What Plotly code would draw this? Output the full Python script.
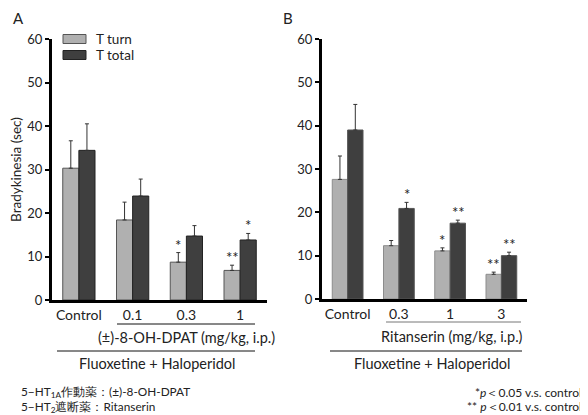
import plotly.graph_objects as go

# The page body adds an 8px offset, so the figure is 8px smaller and all
# reference-pixel positions are shifted by 8px.
OFF = 8
W, H = 588 - OFF, 415 - OFF
FONT = "Lato"

# ---------------- data ----------------
cats_A = ["Control", "0.1", "0.3", "1"]
turn_A = [30.3, 18.4, 8.7, 6.8]
turn_A_err = [6.3, 4.1, 2.2, 1.2]
total_A = [34.4, 23.9, 14.7, 13.8]
total_A_err = [6.1, 3.9, 2.4, 1.5]
sig_turn_A = ["", "", "*", "**"]
sig_total_A = ["", "", "", "*"]

cats_B = ["Control", "0.3", "1", "3"]
turn_B = [27.6, 12.3, 11.1, 5.7]
turn_B_err = [5.4, 1.2, 0.7, 0.5]
total_B = [39.0, 20.9, 17.5, 10.0]
total_B_err = [5.9, 1.4, 0.7, 0.8]
sig_turn_B = ["", "", "*", "**"]
sig_total_B = ["", "*", "**", "**"]

series_names = ["T turn", "T total"]
y_ticks = [0, 10, 20, 30, 40, 50, 60]

GRAY = "#b0b0b0"
DARK = "#3f3f3f"
EDGE_A = ["#555555", "#222222"]
TXT = "#222222"


def px_x(p):
    return (p - OFF) / W


def px_y(p):
    return 1 - (p - OFF) / H


fig = go.Figure()

def add_bars(cats, turn, turn_err, total, total_err, xa, ya, edge_g, edge_d):
    fig.add_trace(go.Bar(
        x=cats, y=turn, name=series_names[0], xaxis=xa, yaxis=ya,
        marker=dict(color=GRAY, line=dict(color=edge_g, width=1)),
        error_y=dict(type="data", array=turn_err, symmetric=False,
                     arrayminus=[0] * len(turn), color="#333333", thickness=1, width=2),
        showlegend=False))
    fig.add_trace(go.Bar(
        x=cats, y=total, name=series_names[1], xaxis=xa, yaxis=ya,
        marker=dict(color=DARK, line=dict(color=edge_d, width=1)),
        error_y=dict(type="data", array=total_err, symmetric=False,
                     arrayminus=[0] * len(total), color="#333333", thickness=1, width=2),
        showlegend=False))


add_bars(cats_A, turn_A, turn_A_err, total_A, total_A_err, "x", "y", EDGE_A[0], EDGE_A[1])
add_bars(cats_B, turn_B, turn_B_err, total_B, total_B_err, "x2", "y2", "#8c8c8c", "#555555")

annotations = []

def add_sig(vals, errs, sigs, xref, yref, shift):
    for i, (v, e, s) in enumerate(zip(vals, errs, sigs)):
        if s:
            annotations.append(dict(x=i, y=v + e, xref=xref, yref=yref, text=s,
                                    showarrow=False, xshift=shift, yanchor="bottom",
                                    yshift=-3, font=dict(family=FONT, size=15, color=TXT)))


add_sig(turn_A, turn_A_err, sig_turn_A, "x", "y", -8)
add_sig(total_A, total_A_err, sig_total_A, "x", "y", 8)
add_sig(turn_B, turn_B_err, sig_turn_B, "x2", "y2", -8)
add_sig(total_B, total_B_err, sig_total_B, "x2", "y2", 8)

def txt(x, y, text, size=12.5, xanchor="center", align="center"):
    annotations.append(dict(x=px_x(x), y=px_y(y), xref="paper", yref="paper", text=text,
                            showarrow=False, xanchor=xanchor, yanchor="middle", align=align,
                            font=dict(family=FONT, size=size, color=TXT)))

txt(18, 18, "A", 15)
txt(288, 18, "B", 15)
txt(186, 337, "(±)-8-OH-DPAT (mg/kg, i.p.)", 14.5)
txt(157, 363, "Fluoxetine + Haloperidol", 14.5)
txt(452, 336, "Ritanserin (mg/kg, i.p.)", 14.5)
txt(432, 363, "Fluoxetine + Haloperidol", 14.5)
txt(19, 392, "5−HT<sub>1A</sub>作動薬：(±)-8-OH-DPAT", 11.8, "left", "left")
txt(19, 407, "5−HT<sub>2</sub>遮断薬：Ritanserin", 11.8, "left", "left")
txt(584, 392, "*<i>p</i>＜0.05 v.s. control", 12, "right", "right")
txt(584, 406, "** <i>p</i>＜0.01 v.s. control", 12, "right", "right")

shapes = []

def hline(x0, x1, y, color="#111", w=1):
    shapes.append(dict(type="line", xref="paper", yref="paper",
                       x0=px_x(x0), x1=px_x(x1), y0=px_y(y), y1=px_y(y),
                       line=dict(color=color, width=w)))

hline(117, 255, 324)
hline(57, 255, 351)
hline(386, 521, 322, "#777")
hline(330, 522, 351)

# legend (drawn as key boxes + labels)
for name, col, edge, yc in zip(series_names, [GRAY, DARK], EDGE_A, [39, 55]):
    shapes.append(dict(type="rect", xref="paper", yref="paper",
                       x0=px_x(63), x1=px_x(86), y0=px_y(yc + 4.5), y1=px_y(yc - 4.5),
                       fillcolor=col, line=dict(color=edge, width=1)))
    txt(94, yc, name, 13.5, "left", "left")

axis_common = dict(showline=True, linecolor="black", linewidth=3, showgrid=False,
                   zeroline=False, automargin=False)
xtick_font = dict(family=FONT, size=14, color=TXT)
ytick_font = dict(family=FONT, size=13, color=TXT)

fig.update_layout(
    width=W, height=H, autosize=False,
    margin=dict(l=0, r=0, t=0, b=0, pad=0, autoexpand=False),
    paper_bgcolor="white", plot_bgcolor="white",
    barmode="group", bargap=0.4, bargroupgap=0,
    font=dict(family=FONT, size=12, color=TXT),
    showlegend=False,
    xaxis=dict(domain=[px_x(52), px_x(267)], anchor="y", type="category",
               ticks="", tickfont=xtick_font, **axis_common),
    yaxis=dict(domain=[px_y(300), px_y(39)], anchor="x", range=[0, 60],
               tickvals=y_ticks, ticks="outside", ticklen=4, tickwidth=2, tickcolor="black",
               tickfont=ytick_font,
               title=dict(text="Bradykinesia (sec)", standoff=8,
                          font=dict(family=FONT, size=13.5, color=TXT)),
               **axis_common),
    xaxis2=dict(domain=[px_x(322), px_x(527)], anchor="y2", type="category",
                ticks="", tickfont=xtick_font, **axis_common),
    yaxis2=dict(domain=[px_y(299), px_y(39)], anchor="x2", range=[0, 60],
                tickvals=y_ticks, ticks="outside", ticklen=4, tickwidth=2, tickcolor="black",
                tickfont=ytick_font, **axis_common),
    annotations=annotations,
    shapes=shapes,
)

fig.write_html("out.html")
